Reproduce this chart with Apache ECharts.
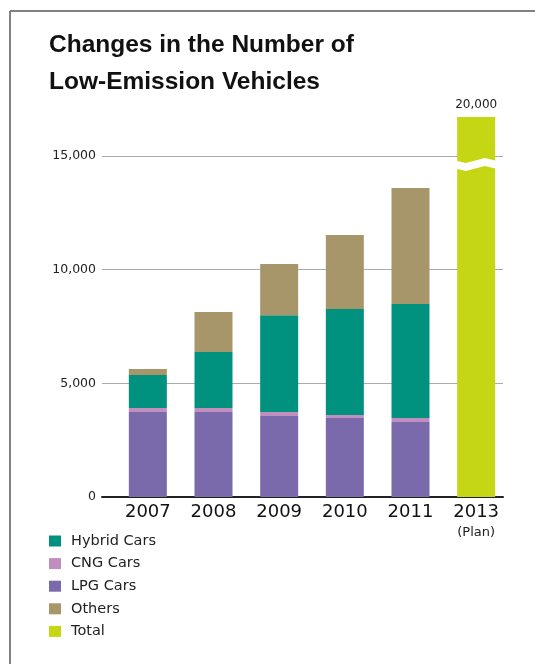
<!DOCTYPE html>
<html>
<head>
<meta charset="utf-8">
<script src="https://cdn.jsdelivr.net/npm/echarts@6/dist/echarts.min.js"></script>
<style>
  html, body { margin: 0; padding: 0; background: #fff; }
  #chart { width: 535px; height: 664px; }
</style>
</head>
<body>
<div id="chart"></div>
<script>
// Years on the category axis; the last one is a target, not an actual count
const years = ['2007', '2008', '2009', '2010', '2011', '2013'];
const planNote = '(Plan)';

// Vehicle counts per year (stacked bottom to top: LPG, CNG, Hybrid, Others)
const lpgCars    = [3740, 3740, 3560, 3480, 3300, null];
const cngCars    = [180, 180, 180, 130, 180, null];
const hybridCars = [1450, 2460, 4260, 4660, 5010, null];
const others     = [260, 1760, 2250, 3260, 5100, null];
const totalPlan  = [null, null, null, null, null, 20000];

// Value axis ticks and the compressed span that lets the 20,000 target fit
const yTicks = [0, 5000, 10000, 15000];
const yMax = 20000;
const yStep = 5000;
const axisBreak = { start: 14470, end: 18106, gap: 352 };

const legendOrder = ['Hybrid Cars', 'CNG Cars', 'LPG Cars', 'Others', 'Total'];

const colors = {
  'Hybrid Cars': '#00927e',
  'CNG Cars': '#c08fc0',
  'LPG Cars': '#7a6aab',
  'Others': '#a8966b',
  'Total': '#c5d614'
};

const fmt = v => String(v).replace(/\B(?=(\d{3})+(?!\d))/g, ',');

// Same visual extent as the broken axis, expressed without the break,
// so the tick lines below the break line up with the bars.
const flatMax = yMax - (axisBreak.end - axisBreak.start) + axisBreak.gap;

const chart = echarts.init(document.getElementById('chart'), null, { renderer: 'canvas' });

function barSeries(name, data, extra) {
  return Object.assign({
    name: name,
    type: 'bar',
    stack: 'vehicles',
    xAxisIndex: 1,
    yAxisIndex: 1,
    barWidth: 38,
    data: data,
    itemStyle: { color: colors[name] },
    emphasis: { disabled: true }
  }, extra || {});
}

chart.setOption({
  animation: false,
  backgroundColor: '#fff',
  title: {
    text: 'Changes in the Number of\nLow-Emission Vehicles',
    left: 49,
    top: 27,
    padding: 0,
    textStyle: {
      fontFamily: 'Liberation Sans',
      fontWeight: 'bold',
      fontSize: 24.5,
      lineHeight: 37,
      color: '#111'
    }
  },
  legend: {
    orient: 'vertical',
    left: 49,
    top: 533,
    padding: 0,
    itemWidth: 12,
    itemHeight: 11,
    itemGap: 6.6,
    icon: 'rect',
    data: legendOrder,
    selectedMode: false,
    textStyle: {
      fontFamily: 'DejaVu Sans',
      fontSize: 14.5,
      lineHeight: 16,
      color: '#222',
      padding: [0, 0, 0, 5]
    }
  },
  grid: [
    // frame for the value axis, grid lines and base line
    { left: 102, right: 32, top: 117, bottom: 167 },
    // the bars themselves
    { left: 115, right: 26, top: 117, bottom: 167 }
  ],
  xAxis: [
    {
      type: 'category',
      gridIndex: 0,
      data: years,
      axisLine: { show: true, lineStyle: { color: '#222', width: 2 } },
      axisTick: { show: false },
      axisLabel: { show: false },
      splitLine: { show: false }
    },
    {
      type: 'category',
      gridIndex: 1,
      data: years,
      axisLine: { show: false },
      axisTick: { show: false },
      axisLabel: {
        margin: 5,
        formatter: v => v === years[years.length - 1]
          ? '{y|' + v + '}\n{p|' + planNote + '}'
          : '{y|' + v + '}',
        rich: {
          y: { fontFamily: 'DejaVu Sans', fontSize: 18, lineHeight: 20, color: '#111' },
          p: { fontFamily: 'DejaVu Sans', fontSize: 13, lineHeight: 22, color: '#222' }
        }
      }
    }
  ],
  yAxis: [
    {
      type: 'value',
      gridIndex: 0,
      min: 0,
      max: flatMax,
      interval: yStep,
      axisLine: { show: false },
      axisTick: { show: false },
      axisLabel: {
        margin: 6,
        fontFamily: 'DejaVu Sans',
        fontSize: 12.5,
        color: '#222',
        showMaxLabel: false,
        formatter: v => yTicks.indexOf(v) >= 0 ? fmt(v) : ''
      },
      splitLine: {
        show: true,
        showMinLine: false,
        showMaxLine: false,
        lineStyle: { color: '#aaa', width: 1.2 }
      }
    },
    {
      type: 'value',
      gridIndex: 1,
      min: 0,
      max: yMax,
      interval: yStep,
      breaks: [Object.assign({}, axisBreak)],
      axisLine: { show: false },
      axisTick: { show: false },
      axisLabel: { show: false },
      splitLine: { show: false },
      breakArea: {
        show: true,
        zigzagAmplitude: 2.5,
        zigzagMinSpan: 18,
        zigzagMaxSpan: 22,
        zigzagZ: 100,
        expandOnClick: false,
        itemStyle: { color: '#fff', borderColor: '#fff', borderWidth: 0, opacity: 1 }
      }
    }
  ],
  series: [
    barSeries('LPG Cars', lpgCars),
    barSeries('CNG Cars', cngCars),
    barSeries('Hybrid Cars', hybridCars),
    barSeries('Others', others),
    barSeries('Total', totalPlan, {
      label: {
        show: true,
        position: 'top',
        distance: 6,
        fontFamily: 'DejaVu Sans',
        fontSize: 12,
        color: '#222',
        formatter: p => fmt(p.value)
      }
    })
  ],
  graphic: [
    { type: 'line', shape: { x1: 10, y1: 11, x2: 535, y2: 11 }, style: { stroke: '#808080', lineWidth: 2 }, silent: true },
    { type: 'line', shape: { x1: 10, y1: 11, x2: 10, y2: 664 }, style: { stroke: '#808080', lineWidth: 2 }, silent: true }
  ]
});
</script>
</body>
</html>
